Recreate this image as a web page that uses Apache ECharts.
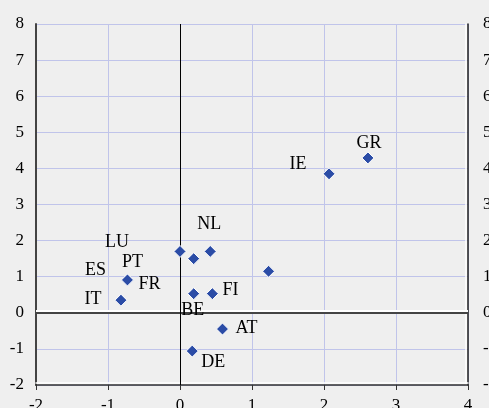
<!DOCTYPE html>
<html>
<head>
<meta charset="utf-8">
<script src="https://cdn.jsdelivr.net/npm/echarts@6/dist/echarts.min.js"></script>
<style>
html, body { margin: 0; padding: 0; background: #efefef; }
#main { width: 489px; height: 408px; }
</style>
</head>
<body>
<div id="main"></div>
<script>
var myChart = echarts.init(document.getElementById('main'));

// country codes, x and y values
var names = ['GR', 'IE', '', 'LU', '', 'NL', 'PT', 'ES', 'IT', 'BE', 'FI', 'AT', 'DE'];
var xValues = [2.61, 2.07, 1.23, 0.0, 0.19, 0.42, -0.73, -0.73, -0.82, 0.19, 0.45, 0.59, 0.17];
var yValues = [4.29, 3.85, 1.15, 1.70, 1.50, 1.70, 0.91, 0.91, 0.35, 0.53, 0.53, -0.45, -1.06];
// second label on the PT/ES point
var extraLabel = 'FR';
var xTicks = [-2, -1, 0, 1, 2, 3, 4];

// label offsets (px) per point
var offsets = [[1, -15], [-31, -10], [0, 0], [-63, -9], [0, 0], [-1, -27], [5, -18], [-32, -10], [-28, -1], [-1, 17], [18, -3], [24, -1], [21, 11]];

var font = 'Liberation Serif';
var pts = [];
for (var i = 0; i < names.length; i++) {
    pts.push({
        name: names[i],
        value: [xValues[i], yValues[i]],
        label: { offset: offsets[i] }
    });
}
var frPoint = {
    name: extraLabel,
    value: [xValues[6], yValues[6]],
    label: { offset: [22, 4] }
};

var axisLbl = { color: '#000', fontFamily: font, fontSize: 17 };

var option = {
    backgroundColor: '#efefef',
    animation: false,
    grid: { left: 36, right: 21, top: 24, bottom: 23, containLabel: false, outerBoundsMode: 'none' },
    xAxis: {
        type: 'value',
        min: xTicks[0],
        max: xTicks[xTicks.length - 1],
        interval: 1,
        axisLine: { onZero: false, lineStyle: { color: '#333', width: 1.5, shadowColor: '#fff', shadowOffsetY: -2 } },
        axisTick: { show: true, length: 5, lineStyle: { color: '#333' } },
        axisLabel: Object.assign({ margin: 12 }, axisLbl),
        splitLine: { lineStyle: { color: '#c0c4ea', width: 1 } }
    },
    yAxis: [{
        type: 'value',
        min: -2,
        max: 8,
        interval: 1,
        axisLine: { show: true, onZero: false, lineStyle: { color: '#444', width: 2 } },
        axisTick: { show: false },
        axisLabel: Object.assign({ margin: 12 }, axisLbl),
        splitLine: { lineStyle: { color: '#c0c4ea', width: 1 } }
    }, {
        type: 'value',
        position: 'right',
        min: -2,
        max: 8,
        interval: 1,
        axisLine: { show: true, onZero: false, lineStyle: { color: '#222', width: 1.5, shadowColor: '#fff', shadowOffsetX: -2 } },
        axisTick: { show: false },
        axisLabel: Object.assign({ margin: 15 }, axisLbl),
        splitLine: { show: false }
    }],
    series: [{
        type: 'scatter',
        symbol: 'diamond',
        symbolSize: 12,
        itemStyle: { color: '#2b4ca6', borderColor: '#fff', borderWidth: 1, opacity: 1 },
        label: {
            show: true,
            position: 'inside',
            formatter: '{b}',
            color: '#000',
            fontFamily: font,
            fontSize: 18
        },
        data: pts.concat([frPoint]),
        z: 5,
        markLine: {
            silent: true,
            symbol: 'none',
            label: { show: false },
            data: [
                { yAxis: 0, lineStyle: { color: '#444', width: 2, type: 'solid', shadowColor: '#fff', shadowOffsetY: -2 } },
                { xAxis: 0, lineStyle: { color: '#000', width: 1, type: 'solid' } }
            ]
        }
    }]
};
myChart.setOption(option);
</script>
</body>
</html>
